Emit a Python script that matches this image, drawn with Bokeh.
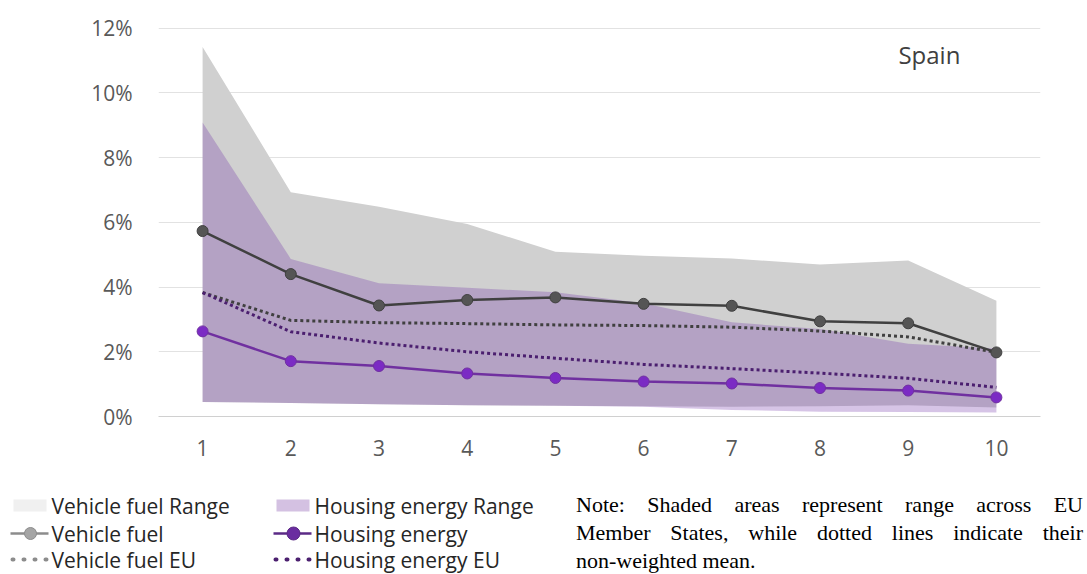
from bokeh.plotting import figure
from bokeh.models import Range1d, FixedTicker, CustomJSTickFormatter, Label, Div
from bokeh.layouts import column, row
from bokeh.embed import file_html
from bokeh.resources import INLINE
from bokeh.core.properties import value

# ---- data ----
deciles = [1, 2, 3, 4, 5, 6, 7, 8, 9, 10]
y_ticks = [0, 2, 4, 6, 8, 10, 12]

vehicle_fuel = [5.73, 4.40, 3.43, 3.60, 3.68, 3.48, 3.42, 2.94, 2.88, 1.98]
housing_energy = [2.63, 1.71, 1.56, 1.33, 1.19, 1.08, 1.02, 0.88, 0.80, 0.59]
vehicle_fuel_eu = [3.83, 2.97, 2.90, 2.87, 2.83, 2.81, 2.76, 2.64, 2.46, 1.98]
housing_energy_eu = [3.83, 2.62, 2.27, 2.00, 1.80, 1.61, 1.48, 1.34, 1.18, 0.90]

vehicle_range_high = [11.42, 6.93, 6.48, 5.95, 5.09, 4.97, 4.88, 4.70, 4.82, 3.58]
vehicle_range_low = [0.45, 0.42, 0.38, 0.35, 0.33, 0.32, 0.30, 0.32, 0.35, 0.28]
housing_range_high = [9.08, 4.87, 4.12, 3.98, 3.84, 3.50, 2.91, 2.70, 2.25, 2.10]
housing_range_low = [0.45, 0.42, 0.38, 0.35, 0.33, 0.30, 0.20, 0.15, 0.14, 0.12]

legend_labels = ["Vehicle fuel Range", "Housing energy Range", "Vehicle fuel",
                 "Housing energy", "Vehicle fuel EU", "Housing energy EU"]
note_lines = ["Note: Shaded areas represent range across EU",
              "Member States, while dotted lines indicate their",
              "non-weighted mean."]
country = "Spain"

FONT = "Open Sans"

# ---- main chart ----
p = figure(width=1087, height=478, output_backend="svg", toolbar_location=None,
           x_range=Range1d(0.5, 10.5), y_range=Range1d(0, 12.05),
           min_border_left=158, min_border_right=47, min_border_top=26,
           min_border_bottom=62)
p.outline_line_color = None
p.background_fill_color = "white"
p.border_fill_color = "white"

p.varea(x=deciles, y1=vehicle_range_low, y2=vehicle_range_high, fill_color="#d0d0d0")
p.varea(x=deciles, y1=housing_range_low, y2=housing_range_high,
        fill_color="#6d2ca6", fill_alpha=0.28)

p.line(deciles, vehicle_fuel_eu, line_color="#404040", line_width=3, line_dash="3 3")
p.line(deciles, housing_energy_eu, line_color="#4b1f6f", line_width=3, line_dash="3 3")

p.line(deciles, vehicle_fuel, line_color="#404040", line_width=2.5)
p.scatter(deciles, vehicle_fuel, size=11, fill_color="#555555", line_color="#404040")
p.line(deciles, housing_energy, line_color="#7030a0", line_width=2.5)
p.scatter(deciles, housing_energy, size=11, fill_color="#7b2bc4", line_color="#7030a0")

p.xaxis.ticker = FixedTicker(ticks=deciles)
p.yaxis.ticker = FixedTicker(ticks=y_ticks)
p.yaxis.formatter = CustomJSTickFormatter(code="return tick.toFixed(0) + '%';")
p.xgrid.visible = False
p.ygrid.grid_line_color = "#e2e2e2"
p.ygrid.grid_line_width = 1

for ax in (p.xaxis, p.yaxis):
    ax.major_tick_line_color = None
    ax.minor_tick_line_color = None
    ax.major_label_text_font = FONT
    ax.major_label_text_font_size = "21px"
    ax.major_label_text_color = "#595959"
p.yaxis.axis_line_color = None
p.yaxis.major_label_standoff = 20
p.xaxis.axis_line_color = "#d0d0d0"
p.xaxis.major_label_standoff = 17

p.add_layout(Label(x=9.24, y=11.2, text=country, text_align="center",
                   text_baseline="middle", text_font=FONT, text_font_size="24px",
                   text_color="#404040"))

# ---- legend ----
lf = figure(width=570, height=96, output_backend="svg", toolbar_location=None,
            x_range=Range1d(0, 570), y_range=Range1d(0, 96), min_border=0)
lf.axis.visible = False
lf.grid.visible = False
lf.outline_line_color = None

lf.quad(left=[13], right=[46], bottom=[63], top=[75], fill_color="#f0f0f0", line_color=None)
lf.quad(left=[276], right=[309], bottom=[63], top=[75], fill_color="#d4c1e2", line_color=None)

lf.line([10, 48], [41, 41], line_color="#8c8c8c", line_width=2.5)
lf.scatter([30], [41], size=12, fill_color="#a5a5a5", line_color="#8c8c8c")
lf.line([273, 311], [41, 41], line_color="#5b2a86", line_width=2.5)
lf.scatter([293], [41], size=13, fill_color="#6a2ca0", line_color="#5b2a86")

lf.line([12, 46], [15, 15], line_color="#8c8c8c", line_width=4, line_dash="1 10",
        line_cap="round")
lf.line([275, 309], [15, 15], line_color="#4b1f6f", line_width=4, line_dash="1 10",
        line_cap="round")

text_x = [51, 314, 51, 314, 51, 314]
text_y = [69, 69, 41, 41, 15, 15]
lf.text(x=text_x, y=text_y, text=legend_labels, text_baseline="middle",
        text_align="left", text_font=value(FONT), text_font_size="21px",
        text_color="#262626")

# ---- note ----
line_divs = []
for i, ln in enumerate(note_lines):
    if i == len(note_lines) - 1:
        line_divs.append(f'<div style="text-align:left;white-space:nowrap;">{ln}</div>')
    else:
        line_divs.append(
            f'<div style="text-align:justify;text-align-last:justify;">{ln}</div>')
note_html = ('<div style="font-family:\'Liberation Serif\',\'Times New Roman\',serif;'
             'font-size:22px;line-height:28px;color:#000;padding:8px 0 0 1px;width:508px;">'
             + "".join(line_divs) + '</div>')
div = Div(text=note_html, width=517, height=96, styles={"overflow": "hidden"})

layout = column(p, row(lf, div))
open("out.html", "w").write(file_html(layout, INLINE))
